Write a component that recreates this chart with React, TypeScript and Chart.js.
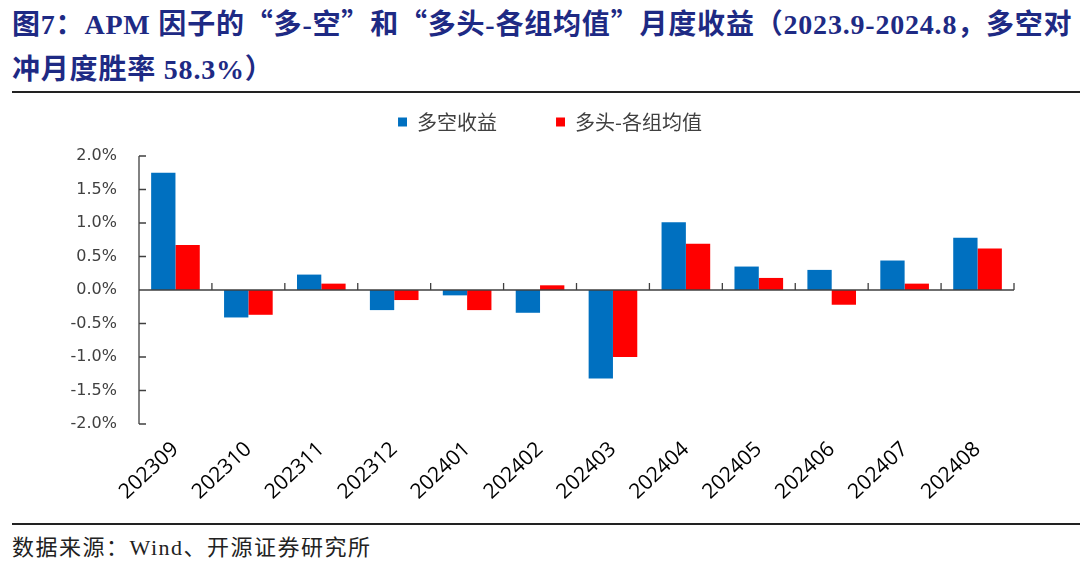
import React, { useEffect, useRef } from 'react';
import { Chart, registerables } from 'chart.js';

Chart.register(...registerables);

const categories = ['202309', '202310', '202311', '202312', '202401', '202402', '202403', '202404', '202405', '202406', '202407', '202408'];
const longShort = [1.75, -0.41, 0.23, -0.30, -0.08, -0.34, -1.32, 1.01, 0.35, 0.30, 0.44, 0.78];
const longMinusAvg = [0.67, -0.37, 0.095, -0.15, -0.30, 0.07, -1.00, 0.69, 0.18, -0.22, 0.095, 0.62];
const seriesNames = ['多空收益', '多头-各组均值'];
const yMin = -2;
const yMax = 2;
const yStep = 0.5;

const AXIS_COLOR = '#404040';
const LEGEND_EXTRA = 14;
const LEGEND_SHIFT = 13;

const legendSpacer = {
  id: 'legendSpacer',
  beforeInit(chart: any) {
    const legend = chart.legend;
    if (!legend) return;
    const orig = legend.fit;
    legend.fit = function () {
      orig.call(this);
      this.height += LEGEND_EXTRA;
    };
  },
  afterLayout(chart: any) {
    const legend = chart.legend;
    if (!legend) return;
    legend.left += LEGEND_SHIFT;
    legend.right += LEGEND_SHIFT;
  },
};

const excelAxes = {
  id: 'excelAxes',
  afterDatasetsDraw(chart: any) {
    const { ctx, chartArea, scales } = chart;
    const x = scales.x;
    const y = scales.y;
    const y0 = y.getPixelForValue(0);
    const left = chartArea.left;
    ctx.save();
    ctx.strokeStyle = AXIS_COLOR;
    ctx.lineWidth = 1.3;
    ctx.beginPath();
    ctx.moveTo(left, y0);
    ctx.lineTo(chartArea.right, y0);
    ctx.moveTo(left, y.getPixelForValue(yMax));
    ctx.lineTo(left, y.getPixelForValue(yMin));
    for (let v = yMin; v <= yMax + 1e-9; v += yStep) {
      const py = y.getPixelForValue(v);
      ctx.moveTo(left, py);
      ctx.lineTo(left + 7, py);
    }
    for (let i = 0; i <= categories.length; i++) {
      const px = x.getPixelForValue(i - 0.5);
      ctx.moveTo(px, y0);
      ctx.lineTo(px, y0 - 7);
    }
    ctx.stroke();
    ctx.restore();
  },
};

const Q = ({ children }: { children: React.ReactNode }) => (
  <span style={{ fontFamily: '"Noto Sans CJK SC", sans-serif' }}>{children}</span>
);

export default function App() {
  const ref = useRef<HTMLCanvasElement>(null);

  useEffect(() => {
    const chart = new Chart(ref.current as HTMLCanvasElement, {
      type: 'bar',
      data: {
        labels: categories,
        datasets: [
          {
            label: seriesNames[0],
            data: longShort,
            backgroundColor: '#0070C0',
            categoryPercentage: 0.667,
            barPercentage: 1.0,
          },
          {
            label: seriesNames[1],
            data: longMinusAvg,
            backgroundColor: '#FF0000',
            categoryPercentage: 0.667,
            barPercentage: 1.0,
          },
        ],
      },
      options: {
        responsive: false,
        animation: false,
        devicePixelRatio: 1,
        layout: { padding: { left: 60, right: 66, top: 3, bottom: 0 }, autoPadding: false },
        plugins: {
          legend: {
            position: 'top',
            labels: {
              boxWidth: 9,
              boxHeight: 9,
              padding: 59,
              color: '#404040',
              font: { family: '"Noto Sans CJK SC", sans-serif', size: 20 },
            },
          },
          tooltip: { enabled: false },
        },
        scales: {
          x: {
            grid: { display: false, drawTicks: false },
            border: { display: false },
            ticks: {
              autoSkip: false,
              maxRotation: 43,
              minRotation: 43,
              padding: 13,
              color: '#000',
              font: { family: '"Open Sans", sans-serif', size: 21 },
            },
            afterFit(s: any) {
              s.height = 92;
            },
          },
          y: {
            min: yMin,
            max: yMax,
            grid: { display: false, drawTicks: false },
            border: { display: false },
            ticks: {
              stepSize: yStep,
              padding: 22,
              color: '#404040',
              font: { family: '"DejaVu Sans", sans-serif', size: 16 },
              callback: (v: any) => Number(v).toFixed(1) + '%',
            },
            afterFit(s: any) {
              s.width = 79;
            },
          },
        },
      },
      plugins: [legendSpacer, excelAxes],
    });
    return () => chart.destroy();
  }, []);

  return (
    <div style={{ position: 'absolute', left: 0, top: 0, width: 1080, height: 583, background: '#fff', overflow: 'hidden' }}>
      <div
        style={{
          position: 'absolute',
          left: 12,
          top: 0,
          whiteSpace: 'nowrap',
          fontFamily: '"Liberation Serif", "Noto Sans CJK SC", serif',
          fontWeight: 'bold',
          fontSize: 28,
          lineHeight: '45px',
          letterSpacing: 0.8,
          color: '#1E2A84',
        }}
      >
        图7：APM 因子的<Q>“</Q>多-空<Q>”</Q>和<Q>“</Q>多头-各组均值<Q>”</Q>月度收益（2023.9-2024.8，多空对
        <br />
        冲月度胜率 58.3%）
      </div>
      <div style={{ position: 'absolute', left: 12, top: 91, width: 1068, height: 2, background: '#222' }} />
      <canvas ref={ref} width={1080} height={466} style={{ position: 'absolute', left: 0, top: 50 }} />
      <div style={{ position: 'absolute', left: 12, top: 523, width: 1068, height: 2, background: '#222' }} />
      <div
        style={{
          position: 'absolute',
          left: 12,
          top: 533,
          whiteSpace: 'nowrap',
          fontFamily: '"Liberation Serif", "Noto Sans CJK SC", serif',
          fontSize: 22,
          lineHeight: '30px',
          letterSpacing: 1.5,
          color: '#222',
        }}
      >
        数据来源：Wind、开源证券研究所
      </div>
    </div>
  );
}
